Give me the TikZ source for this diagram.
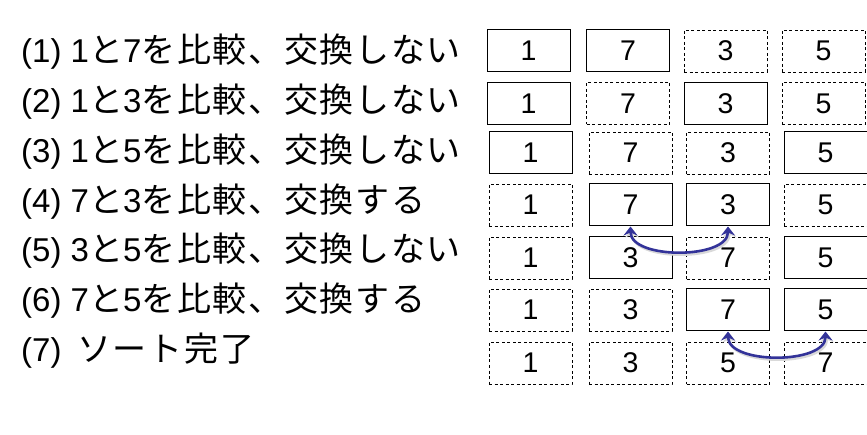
\documentclass[tikz,border=0pt]{standalone}
\usepackage{fontspec}
\setmainfont{Liberation Sans}
\newfontfamily\jp{Noto Sans CJK JP}[Scale=1.03, LetterSpace=5]
\usetikzlibrary{arrows.meta}
\definecolor{swapblue}{RGB}{51,51,153}
\tikzset{>=Stealth}

\begin{document}
\begin{tikzpicture}[x=1pt, y=-1pt,
    cell/.style={draw, line width=1pt, minimum width=83pt, minimum height=42pt,
        inner sep=0pt, font=\fontsize{28.5}{28.5}\selectfont},
    idle/.style={cell, line width=0.8pt, dash pattern=on 3pt off 2.5pt},
    step line/.style={anchor=base west, inner sep=0pt, font=\fontsize{33}{33}\selectfont},
    swap/.style={<->, >={Stealth[length=9pt, width=14pt, inset=3pt]}, line width=2.6pt,
        draw=swapblue, looseness=0.87}]
    \useasboundingbox (0,0) rectangle (867,435);
    \node[step line] (s1) at (21,63) {(1) 1{\jp と}7{\jp を比較、交換しない}};
    \node[step line] (s2) at (21,112.7) {(2) 1{\jp と}3{\jp を比較、交換しない}};
    \node[step line] (s3) at (21,162.4) {(3) 1{\jp と}5{\jp を比較、交換しない}};
    \node[step line] (s4) at (21,212.1) {(4) 7{\jp と}3{\jp を比較、交換する}};
    \node[step line] (s5) at (21,261.8) {(5) 3{\jp と}5{\jp を比較、交換しない}};
    \node[step line] (s6) at (21,311.5) {(6) 7{\jp と}5{\jp を比較、交換する}};
    \node[step line] (s7) at (21,361.2) {(7)\hspace{0.2em} {\jp ソート完了}};
    \node[cell] (r1c1) at (528.5,51) {1};
    \node[cell] (r1c2) at (628,51) {7};
    \node[idle] (r1c3) at (725.5,51) {3};
    \node[idle] (r1c4) at (823.5,51) {5};
    \node[cell] (r2c1) at (528.5,103.5) {1};
    \node[idle] (r2c2) at (628,103.5) {7};
    \node[cell] (r2c3) at (725.5,103.5) {3};
    \node[idle] (r2c4) at (823.5,103.5) {5};
    \node[cell] (r3c1) at (530.5,153) {1};
    \node[idle] (r3c2) at (630.5,153) {7};
    \node[idle] (r3c3) at (728,153) {3};
    \node[cell] (r3c4) at (825.5,153) {5};
    \node[idle] (r4c1) at (530.5,205) {1};
    \node[cell] (r4c2) at (630.5,205) {7};
    \node[cell] (r4c3) at (728,205) {3};
    \node[idle] (r4c4) at (825.5,205) {5};
    \node[idle] (r5c1) at (530.5,258) {1};
    \node[cell] (r5c2) at (630.5,258) {3};
    \node[idle] (r5c3) at (728,258) {7};
    \node[cell] (r5c4) at (825.5,258) {5};
    \node[idle] (r6c1) at (530.5,310) {1};
    \node[idle] (r6c2) at (630.5,310) {3};
    \node[cell] (r6c3) at (728,310) {7};
    \node[cell] (r6c4) at (825.5,310) {5};
    \node[idle] (r7c1) at (530.5,363) {1};
    \node[idle] (r7c2) at (630.5,363) {3};
    \node[idle] (r7c3) at (728,363) {5};
    \node[idle] (r7c4) at (825.5,363) {7};
    \draw[swap, draw=black!15, transform canvas={shift={(1.5pt,-2pt)}}] (r4c2.south) to[out=-90, in=-90] (r4c3.south);
    \draw[swap] (r4c2.south) to[out=-90, in=-90] (r4c3.south);
    \draw[swap, draw=black!15, transform canvas={shift={(1.5pt,-2pt)}}] (r6c3.south) to[out=-90, in=-90] (r6c4.south);
    \draw[swap] (r6c3.south) to[out=-90, in=-90] (r6c4.south);
\end{tikzpicture}
\end{document}
